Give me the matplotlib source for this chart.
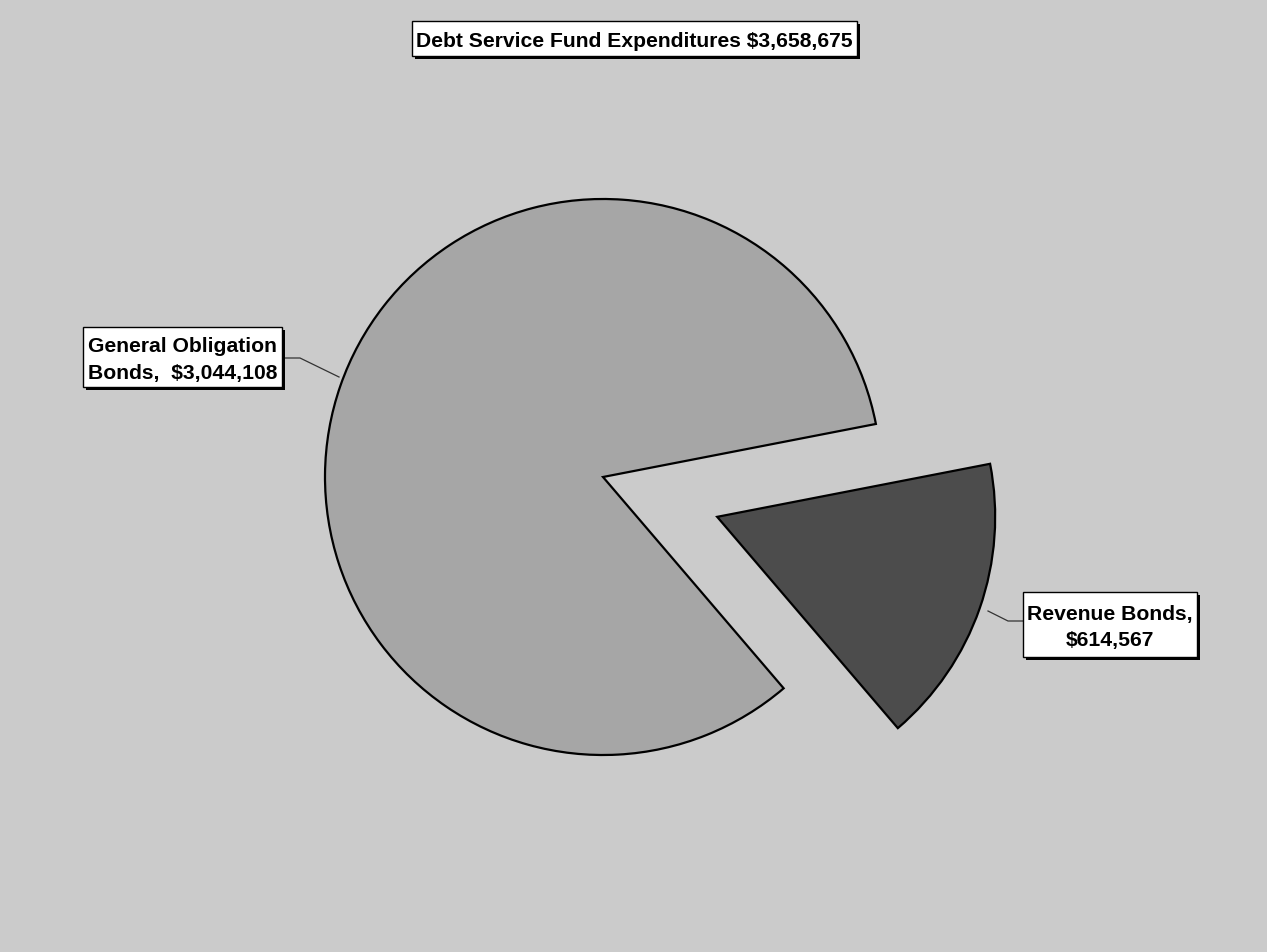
import matplotlib
matplotlib.use("Agg")
import matplotlib.pyplot as plt
from matplotlib.patches import Rectangle

# Debt service fund expenditure breakdown
categories = ["General Obligation\nBonds,  $3,044,108", "Revenue Bonds,\n$614,567"]
values = [3044108, 614567]
title_text = "Debt Service Fund Expenditures $3,658,675"

W, H = 1267, 953
fig = plt.figure(figsize=(W / 100, H / 100), dpi=100)
fig.patch.set_facecolor("#cbcbcb")
ax = fig.add_axes([0, 0, 1, 1])

radius = 278
center = (603, H - 478)
wedges, _ = ax.pie(
    values,
    explode=[0, 0.435 * radius],
    startangle=11.0,
    counterclock=True,
    colors=["#a6a6a6", "#4c4c4c"],
    radius=radius,
    center=center,
    frame=True,
    wedgeprops=dict(edgecolor="black", linewidth=1.6),
)
ax.set_xlim(0, W)
ax.set_ylim(0, H)
ax.set_aspect("equal")
ax.axis("off")

font = ["Liberation Sans", "DejaVu Sans"]


def boxed(x0, y0, x1, y1, s):
    """White label box with a black drop shadow; coordinates measured from the top."""
    ax.add_patch(Rectangle((x0 + 3, H - y1 - 3), x1 - x0, y1 - y0,
                           facecolor="black", edgecolor="none", zorder=4))
    ax.add_patch(Rectangle((x0, H - y1), x1 - x0, y1 - y0,
                           facecolor="white", edgecolor="black", linewidth=1.0, zorder=5))
    ax.text((x0 + x1) / 2, H - (y0 + y1) / 2 - 2, s, ha="center", va="center",
            fontsize=15.2, fontweight="bold", family=font, color="black",
            linespacing=1.5, zorder=6)


boxed(412, 22, 857, 57, title_text)
boxed(83, 328, 282, 388, categories[0])
boxed(1023, 593, 1197, 658, categories[1])

# Leader lines from labels to slices
ax.plot([283, 300, 339], [H - 359, H - 359, H - 378], color="#333333", lw=0.9, zorder=3)
ax.plot([988, 1008, 1023], [H - 612, H - 622, H - 622], color="#333333", lw=0.9, zorder=3)

fig.savefig("out.png", dpi=100, facecolor=fig.get_facecolor())
